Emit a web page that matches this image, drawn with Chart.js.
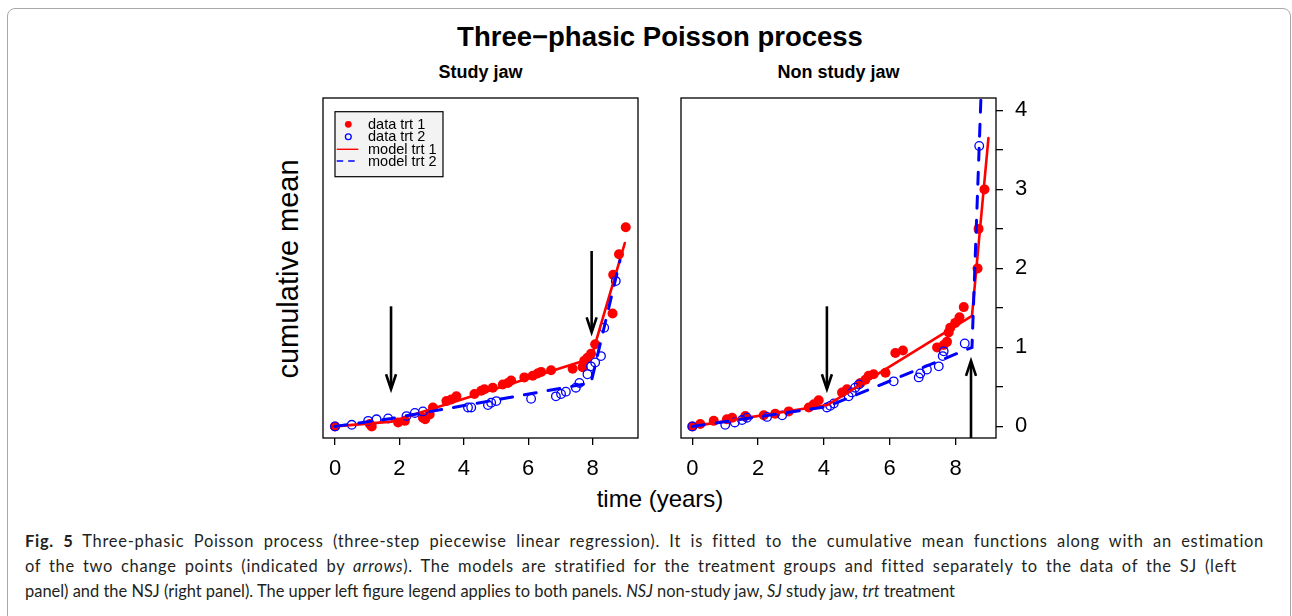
<!DOCTYPE html>
<html><head><meta charset="utf-8">
<script src="https://cdn.jsdelivr.net/npm/chart.js@4.4.1/dist/chart.umd.min.js"></script>
<style>
html,body{margin:0;padding:0;background:#fff;}
body{width:1292px;height:616px;overflow:hidden;position:relative;font-family:"Liberation Sans",Arial,sans-serif;color:#000;}
.frame{position:absolute;left:7px;top:8px;width:1282px;height:660px;border:1px solid #a8a8a8;border-radius:8px;}
.t{position:absolute;white-space:nowrap;line-height:1;}
canvas{position:absolute;}
.cap{position:absolute;left:25px;white-space:nowrap;font-family:Lato,"Noto Sans",sans-serif;font-size:17.5px;line-height:1;color:#231f20;transform-origin:0 50%;}
</style></head><body>
<div class="frame"></div>
<div class="t" style="left:0;width:1320px;text-align:center;top:23px;font-weight:bold;font-size:27.5px;">Three−phasic Poisson process</div>
<div class="t" style="left:323px;width:315px;text-align:center;top:63px;font-weight:bold;font-size:18px;">Study jaw</div>
<div class="t" style="left:681px;width:315px;text-align:center;top:63px;font-weight:bold;font-size:18px;">Non study jaw</div>
<div class="t" style="left:288px;top:269px;font-size:29px;transform:translate(-50%,-50%) rotate(-90deg);">cumulative mean</div>
<div class="t" style="left:0;width:1320px;text-align:center;top:487px;font-size:24px;">time (years)</div>
<canvas id="sj" width="335" height="400" style="left:313px;top:88px;width:335px;height:400px;"></canvas>
<canvas id="nsj" width="375" height="400" style="left:671px;top:88px;width:375px;height:400px;"></canvas>
<div class="cap" id="c1" style="top:532px;"><b>Fig. 5</b> Three-phasic Poisson process (three-step piecewise linear regression). It is fitted to the cumulative mean functions along with an estimation</div>
<div class="cap" id="c2" style="top:557px;">of the two change points (indicated by <i>arrows</i>). The models are stratified for the treatment groups and fitted separately to the data of the SJ (left</div>
<div class="cap" id="c3" style="top:582px;">panel) and the NSJ (right panel). The upper left figure legend applies to both panels. <i>NSJ</i> non-study jaw, <i>SJ</i> study jaw, <i>trt</i> treatment</div>
<script>
// ---------- data ----------
const seriesLabels = ['data trt 1', 'data trt 2', 'model trt 1', 'model trt 2'];
const xTickValues = [0, 2, 4, 6, 8];
const yTickValues = [0, 0.5, 1, 1.5, 2, 2.5, 3, 3.5, 4];
const yTickLabels = ['0', '', '1', '', '2', '', '3', '', '4'];

// Study jaw (left panel)
const sjTrt1X = [0, 1.08, 1.14, 1.96, 2.17, 2.73, 2.80, 2.94, 3.04, 3.46, 3.61, 3.77, 4.33, 4.54, 4.64, 4.90, 5.21, 5.37, 5.47, 5.88, 6.14, 6.29, 6.40, 6.71, 7.38, 7.69, 7.74, 7.84, 7.95, 8.08, 8.62, 8.64, 8.82, 9.03];
const sjTrt1Y = [0, 0.03, 0.00, 0.05, 0.07, 0.11, 0.09, 0.15, 0.24, 0.32, 0.34, 0.38, 0.41, 0.45, 0.47, 0.49, 0.53, 0.55, 0.58, 0.62, 0.64, 0.67, 0.69, 0.71, 0.73, 0.75, 0.83, 0.87, 0.92, 1.04, 1.43, 1.92, 2.18, 2.52];
const sjTrt2X = [0, 0.52, 1.03, 1.29, 1.65, 2.22, 2.48, 2.73, 4.13, 4.23, 4.75, 4.85, 5.01, 6.09, 6.86, 7.02, 7.17, 7.48, 7.59, 7.84, 7.95, 8.08, 8.26, 8.36, 8.72];
const sjTrt2Y = [0, 0.02, 0.07, 0.09, 0.10, 0.13, 0.17, 0.19, 0.24, 0.24, 0.27, 0.30, 0.32, 0.35, 0.38, 0.41, 0.44, 0.49, 0.55, 0.66, 0.76, 0.81, 0.89, 1.25, 1.84];
const sjModel1X = [0, 1.75, 7.95, 9.0];
const sjModel1Y = [0, 0.06, 0.86, 2.32];
const sjModel2X = [0, 1.75, 7.95, 8.85];
const sjModel2Y = [0, 0.10, 0.55, 2.10];
const sjArrowX = [1.74, 7.97];
const sjArrowFrom = [1.52, 2.22];
const sjArrowTo = [0.47, 1.19];

// Non study jaw (right panel)
const nsjTrt1X = [0, 0.24, 0.65, 1.05, 1.21, 1.61, 2.17, 2.52, 2.93, 3.54, 3.69, 3.84, 4.55, 4.70, 5.11, 5.26, 5.36, 5.51, 5.87, 6.17, 6.40, 7.44, 7.64, 7.74, 7.79, 7.84, 7.99, 8.12, 8.25, 8.67, 8.70, 8.88];
const nsjTrt1Y = [0, 0.03, 0.07, 0.09, 0.11, 0.13, 0.14, 0.16, 0.19, 0.24, 0.28, 0.33, 0.43, 0.47, 0.55, 0.59, 0.64, 0.66, 0.68, 0.93, 0.96, 1.00, 1.03, 1.07, 1.19, 1.25, 1.31, 1.38, 1.51, 2.00, 2.50, 3.00];
const nsjTrt2X = [0, 1.00, 1.29, 1.51, 1.66, 2.27, 2.73, 4.09, 4.19, 4.30, 4.75, 4.85, 4.95, 5.06, 6.12, 6.88, 6.93, 7.13, 7.49, 7.61, 7.64, 8.28, 8.72];
const nsjTrt2Y = [0, 0.02, 0.05, 0.08, 0.11, 0.12, 0.14, 0.24, 0.26, 0.29, 0.38, 0.43, 0.49, 0.53, 0.57, 0.62, 0.67, 0.72, 0.76, 0.89, 0.95, 1.05, 3.55];
const nsjModel1X = [0, 4.1, 8.5, 9.0];
const nsjModel1Y = [0, 0.27, 1.40, 3.65];
const nsjModel2X = [0, 4.1, 8.5, 8.8];
const nsjModel2Y = [0, 0.25, 1.00, 4.48];
const nsjArrowX = [4.09, 8.47];
const nsjArrowFrom = [1.52, -0.147];
const nsjArrowTo = [0.47, 0.83];

// ---------- helpers ----------
const FONT = '"Liberation Sans", Arial, sans-serif';
Chart.defaults.font.family = FONT;
Chart.defaults.color = '#000';
const pts = (xs, ys) => xs.map((x, i) => ({ x: x, y: ys[i] }));

function makeDatasets(t1x, t1y, t2x, t2y, m1x, m1y, m2x, m2y) {
  return [
    { label: seriesLabels[0], data: pts(t1x, t1y), showLine: false, pointRadius: 5, pointHoverRadius: 5,
      pointBackgroundColor: '#ff0000', pointBorderColor: '#ff0000', pointBorderWidth: 0, order: 4 },
    { label: seriesLabels[1], data: pts(t2x, t2y), showLine: false, pointRadius: 4.3, pointHoverRadius: 4.3,
      pointBackgroundColor: 'rgba(0,0,0,0)', pointBorderColor: '#0000ff', pointBorderWidth: 1.3, order: 3 },
    { label: seriesLabels[2], data: pts(m1x, m1y), showLine: true, pointRadius: 0, borderColor: '#ff0000',
      borderWidth: 2.6, borderCapStyle: 'round', borderJoinStyle: 'round', tension: 0, order: 2 },
    { label: seriesLabels[3], data: pts(m2x, m2y), showLine: true, pointRadius: 0, borderColor: '#0000ff',
      borderWidth: 3, borderDash: [12, 12], borderCapStyle: 'round', tension: 0, order: 1 }
  ];
}

const boxPlugin = {
  id: 'box',
  afterDatasetsDraw(chart) {
    const a = chart.chartArea, ctx = chart.ctx;
    ctx.save(); ctx.strokeStyle = '#000'; ctx.lineWidth = 1.3;
    ctx.strokeRect(a.left, a.top, a.right - a.left, a.bottom - a.top);
    ctx.restore();
  }
};

function arrowPlugin(xv, from, to) {
  return {
    id: 'arrows',
    afterDatasetsDraw(chart) {
      const sx = chart.scales.x, sy = chart.scales.y, ctx = chart.ctx;
      ctx.save(); ctx.strokeStyle = '#000'; ctx.lineWidth = 2.6; ctx.lineCap = 'butt'; ctx.lineJoin = 'miter';
      xv.forEach((v, i) => {
        const px = sx.getPixelForValue(v);
        const y0 = sy.getPixelForValue(from[i]);
        const y1 = sy.getPixelForValue(to[i]);
        const dir = Math.sign(y1 - y0);
        ctx.beginPath(); ctx.moveTo(px, y0); ctx.lineTo(px, y1 - dir * 1); ctx.stroke();
        ctx.beginPath(); ctx.moveTo(px - 5, y1 - dir * 15); ctx.lineTo(px, y1); ctx.lineTo(px + 5, y1 - dir * 15); ctx.stroke();
      });
      ctx.restore();
    }
  };
}

const legendPlugin = {
  id: 'rlegend',
  afterDatasetsDraw(chart) {
    const a = chart.chartArea, ctx = chart.ctx;
    const bx = a.left + 12, by = a.top + 13.7, bw = 108, bh = 65;
    ctx.save();
    ctx.fillStyle = '#f3f3f3'; ctx.fillRect(bx, by, bw, bh);
    ctx.strokeStyle = '#000'; ctx.lineWidth = 1.2; ctx.strokeRect(bx, by, bw, bh);
    const rows = [12.6, 25, 37.6, 49.3];
    ctx.font = '14.5px ' + FONT; ctx.textBaseline = 'middle'; ctx.textAlign = 'left';
    chart.data.datasets.forEach((ds, i) => {
      const cy = by + rows[i], cx = bx + 13.3;
      if (!ds.showLine) {
        ctx.beginPath();
        if (ds.pointBorderWidth === 0) {
          ctx.arc(cx, cy, 3.4, 0, Math.PI * 2); ctx.fillStyle = ds.pointBackgroundColor; ctx.fill();
        } else {
          ctx.arc(cx, cy, 2.9, 0, Math.PI * 2); ctx.strokeStyle = ds.pointBorderColor; ctx.lineWidth = 1.3; ctx.stroke();
        }
      } else {
        ctx.beginPath(); ctx.strokeStyle = ds.borderColor; ctx.lineWidth = 1.4;
        ctx.setLineDash(ds.borderDash ? [6.5, 5] : []); ctx.lineCap = 'butt';
        ctx.moveTo(bx + 1.7, cy); ctx.lineTo(bx + 23.3, cy); ctx.stroke(); ctx.setLineDash([]);
      }
      ctx.fillStyle = '#000'; ctx.fillText(ds.label, bx + 33, cy + 0.5);
    });
    ctx.restore();
  }
};

function makeScales(xmin, xmax, showY) {
  return {
    x: {
      type: 'linear', min: xmin, max: xmax,
      afterBuildTicks: s => { s.ticks = xTickValues.map(v => ({ value: v })); },
      afterFit: s => { s.height = 50; s.paddingLeft = 0; s.paddingRight = 0; },
      grid: { drawOnChartArea: false, drawTicks: true, tickLength: 7, color: '#000', lineWidth: 1.3 },
      border: { display: false },
      ticks: { color: '#000', font: { size: 22, family: FONT }, padding: 11, maxRotation: 0, autoSkip: false,
               callback: v => String(v) }
    },
    y: {
      type: 'linear', min: -0.147, max: 4.157, display: showY, position: 'right',
      afterBuildTicks: s => { s.ticks = yTickValues.map(v => ({ value: v })); },
      afterFit: s => { s.width = showY ? 50 : 0; s.paddingTop = 0; s.paddingBottom = 0; },
      grid: { drawOnChartArea: false, drawTicks: true, tickLength: 7, color: '#000', lineWidth: 1.3 },
      border: { display: false },
      ticks: { color: '#000', font: { size: 22, family: FONT }, padding: 12, autoSkip: false,
               callback: (v, i) => yTickLabels[i] }
    }
  };
}

new Chart(document.getElementById('sj'), {
  type: 'scatter',
  data: { datasets: makeDatasets(sjTrt1X, sjTrt1Y, sjTrt2X, sjTrt2Y, sjModel1X, sjModel1Y, sjModel2X, sjModel2Y) },
  options: {
    responsive: false, animation: false, devicePixelRatio: 1,
    layout: { padding: { left: 10, top: 10, right: 10, bottom: 0 } },
    plugins: { legend: { display: false }, tooltip: { enabled: false } },
    scales: makeScales(-0.373, 9.41, false)
  },
  plugins: [boxPlugin, arrowPlugin(sjArrowX, sjArrowFrom, sjArrowTo), legendPlugin]
});

new Chart(document.getElementById('nsj'), {
  type: 'scatter',
  data: { datasets: makeDatasets(nsjTrt1X, nsjTrt1Y, nsjTrt2X, nsjTrt2Y, nsjModel1X, nsjModel1Y, nsjModel2X, nsjModel2Y) },
  options: {
    responsive: false, animation: false, devicePixelRatio: 1,
    layout: { padding: { left: 10, top: 10, right: 0, bottom: 0 } },
    plugins: { legend: { display: false }, tooltip: { enabled: false } },
    scales: makeScales(-0.345, 9.23, true)
  },
  plugins: [boxPlugin, arrowPlugin(nsjArrowX, nsjArrowFrom, nsjArrowTo)]
});

// caption: justified block; extra room on lines 1-2 shared between letter and word spacing
const c3 = document.getElementById('c3');
const capScale = 930 / c3.getBoundingClientRect().width;
const capWidths = { c1: 1239, c2: 1212 };
Object.keys(capWidths).forEach(id => {
  const el = document.getElementById(id);
  const natural = el.getBoundingClientRect().width;
  const target = capWidths[id] / capScale;
  const n = el.textContent.length;
  el.style.letterSpacing = (0.55 * (target - natural) / n).toFixed(3) + 'px';
  el.style.whiteSpace = 'normal';
  el.style.width = target.toFixed(1) + 'px';
  el.style.textAlign = 'justify';
  el.style.textAlignLast = 'justify';
});
['c1', 'c2', 'c3'].forEach(id => {
  document.getElementById(id).style.transform = 'scaleX(' + capScale.toFixed(4) + ')';
});
</script>
</body></html>
